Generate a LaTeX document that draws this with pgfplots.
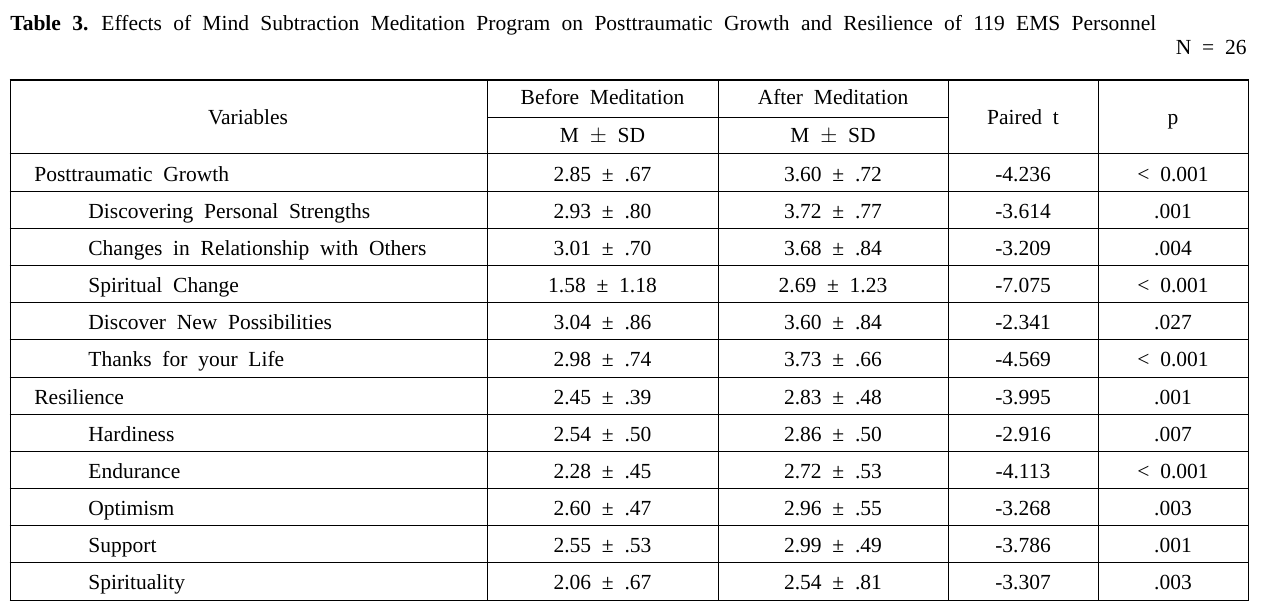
\documentclass[border=0pt]{standalone}
\usepackage{pgfplots}
\pgfplotsset{compat=1.18}
\usepackage{fontspec}
\setmainfont{Liberation Serif}
\newcommand\tf{\fontsize{10.75}{13}\selectfont\spaceskip=0.5em plus 0.1em minus 0.05em\relax}
\newcommand\ttf{\fontsize{10.75}{13}\selectfont\spaceskip=0.525em plus 0.1em minus 0.05em\relax}
\newcommand\LL[3]{\node[anchor=base west,inner sep=0pt,font=\tf] at (axis cs:#1,#2) {#3};}
\newcommand\CC[3]{\node[anchor=base,inner sep=0pt,font=\tf] at (axis cs:#1,#2) {#3};}
\newcommand\DR[7]{% x-indent, baseline, label, before, after, t, p
  \LL{#1}{#2}{#3}
  \CC{602.5}{#2}{#4}
  \CC{833}{#2}{#5}
  \CC{1023}{#2}{#6}
  \CC{1173}{#2}{#7}}
\begin{document}
\begin{tikzpicture}
\begin{axis}[
  width=630.5pt, height=304.5pt, scale only axis,
  xmin=0, xmax=1261, ymin=0, ymax=609, y dir=reverse,
  hide axis, clip=false]
\path (axis cs:0,0) rectangle (axis cs:1261,609);
% title
\node[anchor=base west,inner sep=0pt,font=\ttf] at (axis cs:10,31)
  {\textbf{Table 3.} Effects of Mind Subtraction Meditation Program on Posttraumatic Growth and Resilience of 119 EMS Personnel};
\node[anchor=base east,inner sep=0pt,font=\tf] at (axis cs:1247,55) {N = 26};
% rules
\draw[line width=1pt] (axis cs:9.5,80) -- (axis cs:1248.5,80);
\draw[line width=0.5pt] (axis cs:487,118) -- (axis cs:948.5,118);
\pgfplotsinvokeforeach{154,191.2,228.3,265.5,302.7,339.8,377.0,414.2,451.4,488.5,525.7,562.9,600}{
  \draw[line width=0.5pt] (axis cs:9.5,#1) -- (axis cs:1248.5,#1);
}
\pgfplotsinvokeforeach{10,487,718,948.5,1098,1248}{
  \draw[line width=0.5pt] (axis cs:#1,80) -- (axis cs:#1,600);
}
% header
\CC{248}{125}{Variables}
\CC{602.5}{105}{Before Meditation}
\CC{833}{105}{After Meditation}
\CC{602.5}{142.5}{M $\pm$ SD}
\CC{833}{142.5}{M $\pm$ SD}
\CC{1023}{125}{Paired t}
\CC{1173}{125}{p}
% data rows
\DR{34}{181.1}{Posttraumatic Growth}{2.85 ± .67}{3.60 ± .72}{-4.236}{< 0.001}
\DR{88}{218.3}{Discovering Personal Strengths}{2.93 ± .80}{3.72 ± .77}{-3.614}{.001}
\DR{88}{255.4}{Changes in Relationship with Others}{3.01 ± .70}{3.68 ± .84}{-3.209}{.004}
\DR{88}{292.6}{Spiritual Change}{1.58 ± 1.18}{2.69 ± 1.23}{-7.075}{< 0.001}
\DR{88}{329.8}{Discover New Possibilities}{3.04 ± .86}{3.60 ± .84}{-2.341}{.027}
\DR{88}{366.9}{Thanks for your Life}{2.98 ± .74}{3.73 ± .66}{-4.569}{< 0.001}
\DR{34}{404.1}{Resilience}{2.45 ± .39}{2.83 ± .48}{-3.995}{.001}
\DR{88}{441.3}{Hardiness}{2.54 ± .50}{2.86 ± .50}{-2.916}{.007}
\DR{88}{478.4}{Endurance}{2.28 ± .45}{2.72 ± .53}{-4.113}{< 0.001}
\DR{88}{515.6}{Optimism}{2.60 ± .47}{2.96 ± .55}{-3.268}{.003}
\DR{88}{552.8}{Support}{2.55 ± .53}{2.99 ± .49}{-3.786}{.001}
\DR{88}{589.9}{Spirituality}{2.06 ± .67}{2.54 ± .81}{-3.307}{.003}
\end{axis}
\end{tikzpicture}
\end{document}
